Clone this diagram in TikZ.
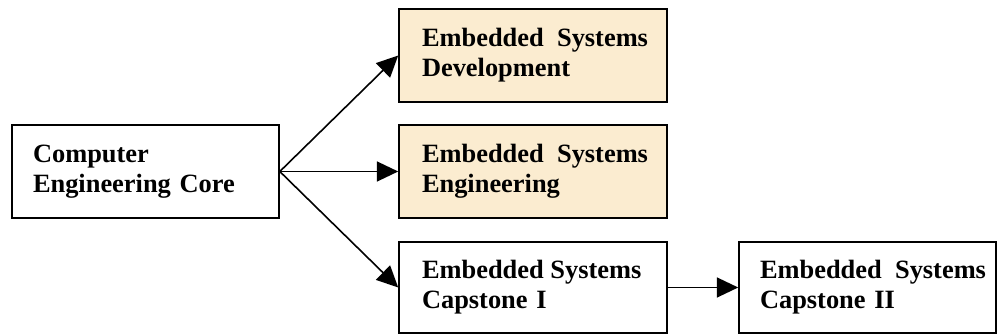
\documentclass[tikz,border=0pt]{standalone}
\usepackage{fontspec}
\setmainfont{Liberation Serif}
\usetikzlibrary{arrows.meta}
\definecolor{paleTan}{RGB}{251,236,208}
\newcommand{\twowords}[3]{\mbox{#1\hspace{#3}#2}}
\tikzset{
  course/.style={draw=black, line width=1.2pt, inner xsep=#1, inner ysep=0pt,
    align=left, font=\bfseries\fontsize{19.8pt}{22.5pt}\selectfont},
  course/.default=16pt,
  elective/.style={fill=paleTan},
  link/.style={line width=1.2pt, -{Triangle[length=16pt,width=15pt]}}
}
\begin{document}
\begin{tikzpicture}[x=0.75pt, y=-0.75pt]
  \useasboundingbox (0,0) rectangle (997,334);
  % starting block
  \node[course=15.75pt, minimum width=200.25pt, minimum height=69.75pt, text width=168.75pt]
    (core) at (145.5,171.5) {Computer\\Engineering Core};
  % track courses
  \node[course=17.25pt, elective, minimum width=201pt, minimum height=69.75pt, text width=166.5pt]
    (dev) at (533,55.5) {\twowords{Embedded}{Systems}{10pt}\\Development};
  \node[course=17.25pt, elective, minimum width=201pt, minimum height=69.75pt, text width=166.5pt]
    (eng) at (533,171.5) {\twowords{Embedded}{Systems}{10pt}\\Engineering};
  \node[course=17.25pt, minimum width=201pt, minimum height=68.25pt, text width=166.5pt]
    (cap1) at (533,287.5) {\twowords{Embedded}{Systems}{5pt}\\Capstone I};
  \node[course=15.75pt, minimum width=192.75pt, minimum height=68.25pt, text width=161.25pt]
    (cap2) at (867.5,287.5) {\twowords{Embedded}{Systems}{10pt}\\Capstone II};
  % prerequisites
  \draw[link] (core.east) -- (dev.west);
  \draw[link] (core.east) -- (eng.west);
  \draw[link] (core.east) -- (cap1.west);
  \draw[link] (cap1.east) -- (cap2.west);
\end{tikzpicture}
\end{document}
